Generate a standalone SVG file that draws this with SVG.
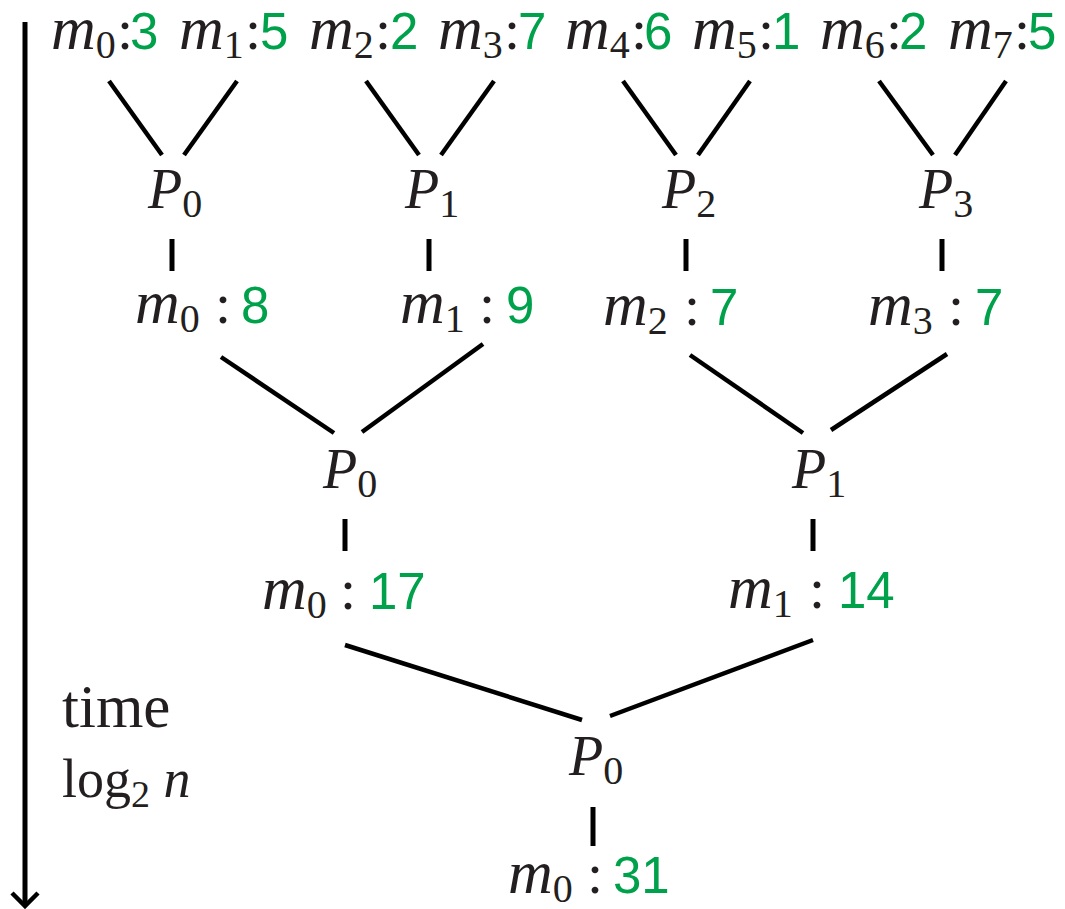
<svg xmlns="http://www.w3.org/2000/svg" width="1065" height="909" viewBox="0 0 1065 909">
<style>
text { font-family: "Liberation Serif", serif; fill: #231f20; }
.mi { font-style: italic; font-size: 62px; }
.p { font-style: italic; font-size: 56px; }
.sub { font-style: normal; font-size: 40px; }
.col { font-style: normal; font-size: 58px; }
.num { font-family: "Liberation Sans", sans-serif; font-size: 51px; fill: #00a14b; }
.ln { stroke: #000; stroke-width: 4.5; fill: none; }
.tick { stroke: #000; stroke-width: 5; fill: none; }
</style>

<g id="time-axis">
<line x1="25" y1="22" x2="25" y2="905" class="tick"/>
<polyline points="12,893 25,906 38,893" class="ln"/>
<text x="62" y="727" font-size="61">time</text>
<text x="62" y="797" font-size="54" fill="#333">log<tspan font-size="38" dy="10">2</tspan><tspan dy="-10" font-style="italic"> n</tspan></text>
</g>

<g id="connectors">
<line class="ln" x1="109" y1="81" x2="162" y2="155"/>
<line class="ln" x1="237" y1="81" x2="184" y2="155"/>
<line class="ln" x1="366" y1="81" x2="419" y2="155"/>
<line class="ln" x1="494" y1="81" x2="441" y2="155"/>
<line class="ln" x1="623" y1="81" x2="676" y2="155"/>
<line class="ln" x1="750" y1="81" x2="698" y2="155"/>
<line class="ln" x1="879" y1="81" x2="933" y2="155"/>
<line class="ln" x1="1006" y1="81" x2="955" y2="155"/>
<line class="tick" x1="172" y1="239" x2="172" y2="271"/>
<line class="tick" x1="429" y1="239" x2="429" y2="271"/>
<line class="tick" x1="686" y1="239" x2="686" y2="271"/>
<line class="tick" x1="942" y1="239" x2="942" y2="271"/>
<line class="ln" x1="221" y1="357" x2="334" y2="433"/>
<line class="ln" x1="483" y1="344" x2="362" y2="432"/>
<line class="ln" x1="690" y1="355" x2="803" y2="433"/>
<line class="ln" x1="947" y1="354" x2="831" y2="430"/>
<line class="tick" x1="345" y1="519" x2="345" y2="551"/>
<line class="tick" x1="813" y1="519" x2="813" y2="551"/>
<line class="ln" x1="345" y1="645" x2="582" y2="720"/>
<line class="ln" x1="813" y1="640" x2="610" y2="716"/>
<line class="tick" x1="593" y1="807" x2="593" y2="846"/>
</g>

<g id="inputs">
<text x="51" y="49"><tspan class="mi">m</tspan><tspan class="sub" dy="9">0</tspan><tspan class="col" dy="-9" x="117">:</tspan><tspan class="num" x="130">3</tspan></text>
<text x="179" y="49"><tspan class="mi">m</tspan><tspan class="sub" dy="9">1</tspan><tspan class="col" dy="-9" x="245">:</tspan><tspan class="num" x="260">5</tspan></text>
<text x="309" y="49"><tspan class="mi">m</tspan><tspan class="sub" dy="9">2</tspan><tspan class="col" dy="-9" x="375">:</tspan><tspan class="num" x="390">2</tspan></text>
<text x="438" y="49"><tspan class="mi">m</tspan><tspan class="sub" dy="9">3</tspan><tspan class="col" dy="-9" x="504">:</tspan><tspan class="num" x="518">7</tspan></text>
<text x="565" y="49"><tspan class="mi">m</tspan><tspan class="sub" dy="9">4</tspan><tspan class="col" dy="-9" x="631">:</tspan><tspan class="num" x="644">6</tspan></text>
<text x="692" y="49"><tspan class="mi">m</tspan><tspan class="sub" dy="9">5</tspan><tspan class="col" dy="-9" x="758">:</tspan><tspan class="num" x="772">1</tspan></text>
<text x="820" y="49"><tspan class="mi">m</tspan><tspan class="sub" dy="9">6</tspan><tspan class="col" dy="-9" x="886">:</tspan><tspan class="num" x="899">2</tspan></text>
<text x="948" y="49"><tspan class="mi">m</tspan><tspan class="sub" dy="9">7</tspan><tspan class="col" dy="-9" x="1014">:</tspan><tspan class="num" x="1028">5</tspan></text>
</g>

<g id="level0-procs">
<text x="148" y="208"><tspan class="p">P</tspan><tspan class="sub" dy="9">0</tspan></text>
<text x="405" y="208"><tspan class="p">P</tspan><tspan class="sub" dy="9">1</tspan></text>
<text x="662" y="208"><tspan class="p">P</tspan><tspan class="sub" dy="9">2</tspan></text>
<text x="919" y="208"><tspan class="p">P</tspan><tspan class="sub" dy="9">3</tspan></text>
</g>

<g id="level1-results">
<text x="135" y="323"><tspan class="mi">m</tspan><tspan class="sub" dy="9">0</tspan><tspan class="col" dy="-9" x="215">:</tspan><tspan class="num" x="241">8</tspan></text>
<text x="400" y="323"><tspan class="mi">m</tspan><tspan class="sub" dy="9">1</tspan><tspan class="col" dy="-9" x="479">:</tspan><tspan class="num" x="506">9</tspan></text>
<text x="603" y="325"><tspan class="mi">m</tspan><tspan class="sub" dy="9">2</tspan><tspan class="col" dy="-9" x="684">:</tspan><tspan class="num" x="710">7</tspan></text>
<text x="868" y="325"><tspan class="mi">m</tspan><tspan class="sub" dy="9">3</tspan><tspan class="col" dy="-9" x="948">:</tspan><tspan class="num" x="975">7</tspan></text>
</g>

<g id="level2-procs">
<text x="323" y="488"><tspan class="p">P</tspan><tspan class="sub" dy="9">0</tspan></text>
<text x="792" y="488"><tspan class="p">P</tspan><tspan class="sub" dy="9">1</tspan></text>
</g>

<g id="level2-results">
<text x="262" y="609"><tspan class="mi">m</tspan><tspan class="sub" dy="9">0</tspan><tspan class="col" dy="-9" x="340">:</tspan><tspan class="num" x="369">17</tspan></text>
<text x="728" y="608"><tspan class="mi">m</tspan><tspan class="sub" dy="9">1</tspan><tspan class="col" dy="-9" x="809">:</tspan><tspan class="num" x="838">14</tspan></text>
</g>

<g id="level3-proc">
<text x="569" y="775"><tspan class="p">P</tspan><tspan class="sub" dy="9">0</tspan></text>
</g>

<g id="level3-result">
<text x="508" y="893"><tspan class="mi">m</tspan><tspan class="sub" dy="9">0</tspan><tspan class="col" dy="-9" x="587">:</tspan><tspan class="num" x="613">31</tspan></text>
</g>
</svg>
